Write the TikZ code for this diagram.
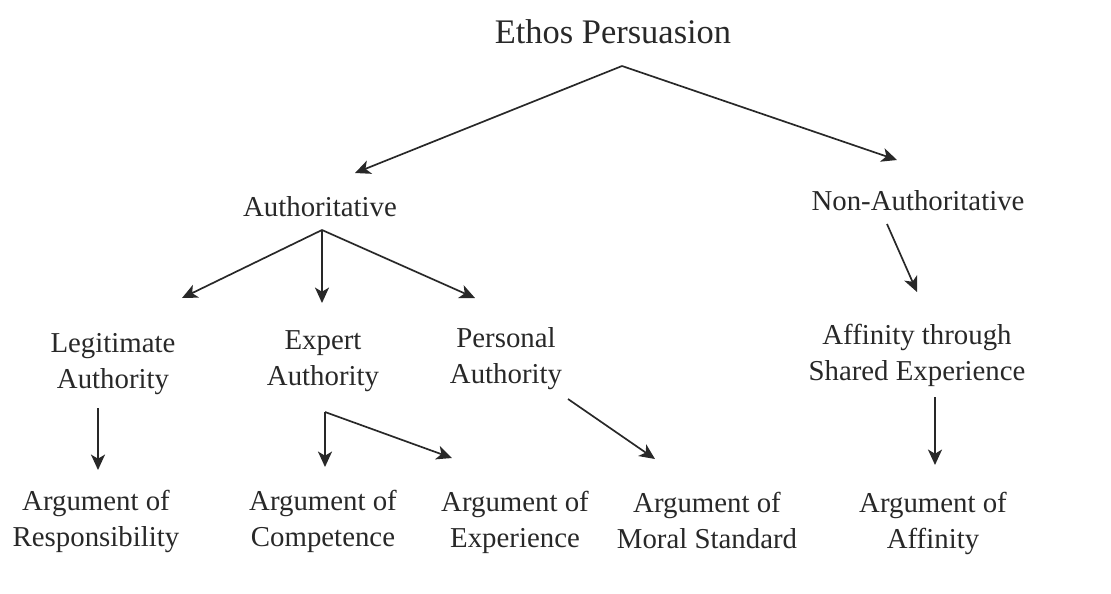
\documentclass[tikz,border=0pt]{standalone}
\usepackage{fontspec}
\setmainfont{Liberation Serif}
\usetikzlibrary{arrows.meta,calc}
\definecolor{ink}{RGB}{40,40,40}
\begin{document}
\begin{tikzpicture}[x=0.025cm, y=-0.025cm,
      lbl/.style={font=\fontsize{20.5}{25.5}\selectfont, align=center, anchor=base, inner sep=0pt, text=ink},
      arr/.style={-{Stealth[length=11pt,width=10pt,inset=3pt]}, line width=1.2pt, draw=ink}]
   \useasboundingbox (0,0) rectangle (1111,593);
   % top two levels (base = last line)
   \node[lbl, font=\fontsize{24.5}{30}\selectfont] (ethos) at (613,43) {Ethos Persuasion};
   \node[lbl] (auth) at (320,216) {Authoritative};
   \node[lbl] (nonauth) at (918,210) {Non-Authoritative};
   \node[lbl] (legit) at (113,388) {Legitimate\\Authority};
   \node[lbl] (expert) at (323,385) {Expert\\Authority};
   \node[lbl] (personal) at (506,383) {Personal\\Authority};
   \node[lbl] (affin) at (917,380) {Affinity through\\Shared Experience};
   % arguments
   \node[lbl] (resp) at (96,546) {Argument of\\Responsibility};
   \node[lbl] (compet) at (323,546) {Argument of\\Competence};
   \node[lbl] (exper) at (515,547) {Argument of\\Experience};
   \node[lbl] (moral) at (707,548) {Argument of\\Moral Standard};
   \node[lbl] (affarg) at (933,548) {Argument of\\Affinity};
   \coordinate (ethosfork) at ($(ethos.base)+(9,23)$);
   \coordinate (authfork) at ($(auth.base)+(2,14)$);
   \coordinate (expertfork) at ($(expert.base)+(2,27)$);
   \draw[arr] (ethosfork) -- ($(auth.base)+(35,-43)$);
   \draw[arr] (ethosfork) -- ($(nonauth.base)+(-21,-50)$);
   \draw[arr] (authfork) -- ($(legit.base)+(69,-90)$);
   \draw[arr] (authfork) -- ($(expert.base)+(-1,-82)$);
   \draw[arr] (authfork) -- ($(personal.base)+(-31,-85)$);
   \draw[arr] ($(nonauth.base)+(-31,14)$) -- ($(affin.base)+(0,-88)$);
   \draw[arr] ($(legit.base)+(-15,20)$) -- ($(resp.base)+(2,-76)$);
   \draw[arr] (expertfork) -- ($(compet.base)+(2,-79)$);
   \draw[arr] (expertfork) -- ($(exper.base)+(-63,-89)$);
   \draw[arr] ($(personal.base)+(62,16)$) -- ($(moral.base)+(-52,-89)$);
   \draw[arr] ($(affin.base)+(18,17)$) -- ($(affarg.base)+(2,-83)$);
\end{tikzpicture}
\end{document}
